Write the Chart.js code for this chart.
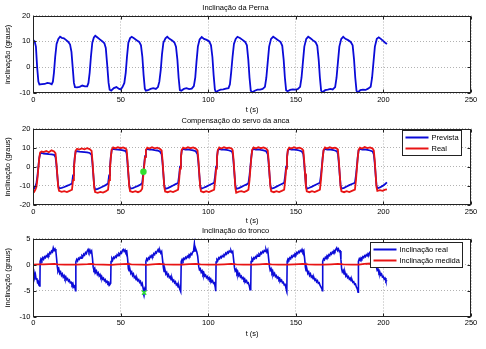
<!DOCTYPE html>
<html>
<head>
<meta charset="utf-8">
<script src="https://cdn.jsdelivr.net/npm/chart.js@4.4.1/dist/chart.umd.min.js"></script>
<style>
  html, body { margin: 0; padding: 0; background: #fff; overflow: hidden; }
  .panel { position: absolute; left: 0; width: 486px; }
</style>
</head>
<body>
<div class="panel" style="top:0px;height:114px"><canvas id="perna"></canvas></div>
<div class="panel" style="top:113px;height:113px"><canvas id="anca"></canvas></div>
<div class="panel" style="top:223px;height:116px"><canvas id="tronco"></canvas></div>
<script>
var blue = '#0b0bd8';
var red = '#e81414';
var green = '#2fe02f';

// tick labels
var timeTicks = [0, 50, 100, 150, 200, 250];
var pernaTicks = [-10, 0, 10, 20];
var ancaTicks = [-20, -10, 0, 10, 20];
var troncoTicks = [-10, -5, 0, 5];

// Inclinação da Perna  [t, graus]
var perna = [
  [0,10.5],[0.8,10.0],[1.5,8],[2.2,0],[2.9,-5.5],[3.5,-6.6],[5,-6.5],[6.5,-6.4],[8,-6.0],[9.5,-6.2],[10.5,-6.5],[11.2,-5.5],[11.8,-2],
  [12.5,4],[13.3,9],[14.3,11],[15.3,11.8],[16.3,11.4],[17.5,11.2],[18.8,10.5],[20,9.8],[21,8.8],[21.8,6],[22.5,0],[23.2,-6],
  [23.8,-7.6],[25,-7.7],[26.5,-7.5],[28,-7.0],[29.5,-7.3],[30.8,-7.3],[31.5,-6.0],[32.2,-2],[32.9,4],[33.7,9.5],[34.6,11.5],
  [35.4,12.2],[36.5,11.6],[38,10.8],[39.5,10.0],[40.6,9.3],[41.4,7.5],[42.2,1],[43,-6],[43.6,-8.6],[44.5,-9.0],[46,-8.0],
  [47.5,-7.6],[49,-8.3],[50,-8.5],[51,-7.5],[52,-6],[52.8,-2],[53.5,4],[54.3,9.5],[55.3,11.3],[56.2,11.8],[57.5,11.2],
  [59,10.5],[60.5,9.8],[61.5,8.5],[62.3,4],[63,-3],[63.7,-8.2],[64.3,-9.0],[65.5,-8.8],[67,-8.3],[68.5,-8.0],[70,-8.3],
  [71.2,-7.6],[72,-5.5],[72.8,-1],[73.5,5],[74.3,9.5],[75.5,11.2],[76.5,11.8],[77.8,11.0],[79.3,10.4],[80.6,9.6],[81.5,8.0],
  [82.3,3],[83,-4],[83.7,-8.8],[84.5,-9.0],[86,-8.3],[87.5,-8.0],[89,-8.4],[90.5,-8.2],[91.7,-7.2],[92.5,-4],[93.2,2],[94,8],
  [95,10.8],[96.2,11.7],[97.5,11.0],[99,10.6],[100.5,10.0],[101.5,8.5],[102.3,4],[103,-3],[103.7,-8.5],[104.3,-9.6],
  [105.5,-9.0],[107,-8.6],[108.5,-8.5],[110,-8.2],[111.5,-8.0],[112.3,-6.5],[113,-2],[113.8,4],[114.6,9],[115.6,11.0],
  [116.6,11.8],[118,11.3],[119.5,10.6],[121,9.8],[122,8.5],[122.8,3],[123.5,-4],[124.2,-9.0],[125,-9.6],[126.5,-9.0],
  [128,-8.6],[129.5,-8.6],[131,-8.3],[132.3,-7.5],[133.1,-4],[133.9,2],[134.7,8],[135.8,11.0],[137,11.8],[138.3,11.2],
  [139.8,10.5],[141.2,9.8],[142.2,8.3],[143,3],[143.7,-4],[144.4,-8.8],[145.2,-9.2],[146.7,-8.7],[148.2,-8.5],[149.7,-8.6],
  [151,-8.4],[152.4,-7.5],[153.2,-4],[154,2],[154.8,8],[155.9,11],[157,11.8],[158.3,11.2],[159.8,10.4],[161.2,9.7],
  [162.2,8.3],[163,3],[163.7,-4],[164.4,-9.0],[165.2,-9.6],[166.7,-8.8],[168.2,-8.6],[169.7,-8.3],[171,-8.5],[172.4,-7.6],
  [173.2,-4],[174,2],[174.8,8],[175.9,11],[177,11.8],[178.3,11.0],[179.8,10.5],[181.3,9.8],[182.4,8.5],[183.2,3],[183.9,-4],
  [184.6,-9.0],[185.3,-9.7],[186.8,-8.8],[188.3,-8.6],[189.8,-8.7],[191.2,-8.2],[192.7,-7.5],[193.5,-4],[194.3,2],[195.1,8],
  [196.2,11],[197.3,11.6],[198.5,11.0],[199.8,10.2],[201,9.5],[202,9.0]
];

// Compensação do servo da anca: time, prevista, real
var ancaT = [
  0,0.6,1.2,
  1.8,2.4,2.9,3.4,3.9,4.7,5.9,7.4,8.9,10.4,11.9,12.7,13.2,13.7,14.2,14.7,16.2,17.7,19.2,20.7,
  22.1,22.7,23.2,23.7,24.2,25.0,26.2,27.7,29.2,30.7,32.2,33.3,33.8,34.3,34.8,35.3,36.8,38.3,39.8,41.3,
  42.7,43.3,43.8,44.3,44.8,45.6,46.8,48.3,49.8,51.3,52.8,53.3,53.8,54.3,54.8,55.3,56.8,58.3,59.8,61.3,
  62.2,62.8,63.3,63.8,64.3,65.1,66.3,67.8,69.3,70.8,72.3,73.3,73.8,74.3,74.8,75.3,76.8,78.3,79.8,81.3,
  82.7,83.3,83.8,84.3,84.8,85.6,86.8,88.3,89.8,91.3,92.8,93.8,94.3,94.8,95.3,95.8,97.3,98.8,100.3,101.8,
  103.3,103.9,104.4,104.9,105.4,106.2,107.4,108.9,110.4,111.9,113.4,113.9,114.4,114.9,115.4,115.9,117.4,118.9,120.4,121.9,
  122.9,123.5,124.0,124.5,125.0,125.8,127.0,128.5,130.0,131.5,133.0,133.9,134.4,134.9,135.4,135.9,137.4,138.9,140.4,141.9,
  143.3,143.9,144.4,144.9,145.4,146.2,147.4,148.9,150.4,151.9,153.4,154.2,154.7,155.2,155.7,156.2,157.7,159.2,160.7,162.2,
  163.7,164.3,164.8,165.3,165.8,166.6,167.8,169.3,170.8,172.3,173.5,174.0,174.5,175.0,175.5,176.0,177.5,179.0,180.5,182.0,
  183.7,184.3,184.8,185.3,185.8,186.6,187.8,189.3,190.8,192.3,193.8,194.5,195.0,195.5,196.0,196.5,198.0,199.5,201.0,202.0
];
var ancaPrevista = [
  -10.5,-11.2,-10.2,
  -8.5,-4.5,0,4.5,6.8,7.2,6.9,6.8,6.6,6.5,6.2,5.0,1.0,-4.5,-9.5,-11.3,-11.0,-10.6,-10.0,-9.4,
  -8.8,-4.5,0,5.0,8.0,8.2,7.9,7.8,7.7,7.5,7.2,6.2,1.5,-4.5,-10.0,-12.0,-11.6,-11.0,-10.3,-9.6,
  -8.8,-4.5,0,5.5,8.8,9.4,9.1,9.0,8.8,8.6,8.2,7.0,2.0,-4.0,-9.5,-11.5,-11.2,-10.6,-10.0,-9.3,
  -8.5,-3.5,1.0,5.5,8.6,9.3,9.0,9.0,8.7,8.5,8.0,6.5,2.0,-4.0,-9.5,-11.6,-11.2,-10.5,-9.8,-9.1,
  -8.6,-4.5,0,5.0,8.5,9.3,9.0,9.1,8.8,8.6,8.1,6.5,2.0,-4.0,-9.5,-11.5,-11.0,-10.4,-9.7,-9.0,
  -8.4,-4.5,0,5.0,8.5,9.3,9.0,9.0,8.8,8.5,8.0,6.8,2.0,-4.0,-9.5,-11.6,-11.2,-10.5,-9.8,-9.2,
  -8.5,-4.5,0,5.0,8.5,9.3,9.0,9.1,8.8,8.6,8.1,6.6,2.0,-4.0,-9.5,-11.5,-11.1,-10.4,-9.7,-9.0,
  -8.4,-4.5,0,5.0,8.5,9.3,9.0,9.0,8.8,8.5,8.0,6.7,2.0,-4.0,-9.5,-11.5,-11.0,-10.4,-9.7,-9.0,
  -8.4,-4.5,0,5.0,8.5,9.3,9.0,9.1,8.8,8.5,8.0,6.6,2.0,-4.0,-9.5,-11.4,-11.0,-10.3,-9.6,-9.0,
  -8.4,-4.5,0,5.0,8.5,9.3,9.0,9.1,8.8,8.5,8.0,6.5,2.0,-4.0,-9.5,-11.3,-10.8,-10.0,-9.0,-8.2
];
var ancaReal = [
  -12.3,-13.0,-12.0,
  -10.5,-6.0,-0.5,4.5,7.5,8.0,7.7,8.3,7.6,8.6,8.0,7.0,2.0,-4.0,-10.5,-12.6,-13.1,-12.8,-13.2,-12.6,
  -12.0,-7.0,-1.0,4.5,8.5,9.4,9.0,9.6,9.1,9.7,9.2,8.3,3.0,-4.0,-11.0,-13.2,-13.6,-13.2,-13.5,-12.9,
  -12.0,-7.0,-1.0,5.0,9.0,10.1,9.6,10.2,9.7,10.1,9.5,8.8,3.5,-3.5,-10.5,-12.8,-13.2,-12.8,-13.3,-12.7,
  -11.5,-5.0,0.0,5.0,8.8,10.0,9.5,10.2,9.6,10.0,9.4,8.5,3.5,-3.5,-10.5,-12.9,-13.3,-12.8,-13.2,-12.6,
  -12.0,-7.0,-1.0,4.5,8.8,10.0,9.5,10.2,9.7,10.1,9.5,8.6,3.5,-3.5,-10.5,-12.8,-13.3,-12.8,-13.2,-12.6,
  -12.0,-7.0,-1.0,4.5,8.8,10.1,9.5,10.2,9.7,10.0,9.4,8.6,3.5,-3.5,-11.0,-13.6,-13.0,-12.8,-13.2,-12.6,
  -12.0,-7.0,-1.0,4.5,8.8,10.1,9.5,10.2,9.7,10.1,9.5,8.6,3.5,-3.5,-10.5,-12.8,-13.3,-12.8,-13.2,-12.6,
  -12.0,-7.0,-1.0,4.5,8.8,10.0,9.5,10.2,9.6,10.0,9.4,8.6,3.5,-3.5,-10.5,-12.8,-13.3,-12.8,-13.2,-12.6,
  -12.0,-7.0,-1.0,4.5,8.8,10.1,9.5,10.2,9.7,10.0,9.4,8.6,3.5,-3.5,-10.5,-12.8,-13.3,-12.8,-13.2,-12.6,
  -12.0,-7.0,-1.0,4.5,8.8,10.0,9.5,10.3,9.8,10.1,9.5,8.5,3.5,-3.5,-10.5,-12.6,-12.2,-12.6,-12.0,-11.8
];
var ancaMarca = [[62.9, -2.6]];

// Inclinação do tronco [t, graus]
var troncoReal = [
  [0,-2.0],[0.4,-1.5],[0.8,-2.4],[1.2,-1.9],[1.6,-2.8],[2.0,-2.6],[2.4,-3.4],[2.8,-3.2],[3.2,-3.9],[3.6,-4.1],[3.8,-3.7],
  [3.9,0.6],[4.4,1.1],[4.9,0.8],[5.4,1.3],[5.9,1.0],[6.4,1.5],[6.9,1.3],[7.4,1.7],[7.9,1.5],[8.4,2.0],[8.9,1.8],[9.4,2.3],
  [9.9,2.1],[10.4,2.6],[10.9,2.4],[11.4,3.2],[11.9,2.7],[12.4,3.0],[12.9,2.5],[13.3,1.2],[13.7,-0.4],[14.1,-1.3],[14.6,-0.9],
  [15.1,-1.7],[15.6,-1.4],[16.1,-2.1],[16.6,-1.8],[17.1,-2.4],[17.6,-2.1],[18.1,-2.7],[18.6,-2.4],[19.1,-2.9],[19.6,-2.7],
  [20.1,-3.2],[20.6,-3.0],[21.1,-3.5],[21.6,-3.4],[22.1,-3.9],[22.6,-3.6],[23.1,-4.3],[23.6,-4.1],[24.1,-5.0],
  [24.3,0.5],[24.8,1.0],[25.3,0.7],[25.8,1.2],[26.3,1.0],[26.8,1.4],[27.3,1.2],[27.8,1.7],[28.3,1.5],[28.8,2.0],[29.3,1.8],
  [29.8,2.3],[30.3,2.1],[30.8,2.6],[31.3,2.9],[31.8,2.4],[32.3,2.8],[32.8,2.3],[33.3,2.6],[33.8,1.2],[34.2,-0.5],[34.6,-1.0],
  [35.1,-0.7],[35.6,-1.5],[36.1,-1.2],[36.6,-1.9],[37.1,-1.6],[37.6,-2.2],[38.1,-1.9],[38.6,-2.5],[39.1,-2.3],[39.6,-2.8],
  [40.1,-2.6],[40.6,-3.1],[41.1,-2.9],[41.6,-3.4],[42.1,-3.2],[42.6,-3.6],[43.1,-3.4],[43.6,-3.9],[44.2,-3.6],
  [44.4,0.6],[44.9,1.2],[45.4,0.9],[45.9,1.4],[46.4,1.2],[46.9,1.6],[47.4,1.4],[47.9,1.9],[48.4,1.7],[48.9,2.1],[49.4,1.9],
  [49.9,2.4],[50.4,2.2],[50.9,2.7],[51.4,2.9],[51.9,2.5],[52.4,2.8],[52.9,2.3],[53.4,2.5],[53.9,1.0],[54.3,-0.8],[54.7,-1.2],
  [55.2,-0.9],[55.7,-1.7],[56.2,-1.4],[56.7,-2.1],[57.2,-1.8],[57.7,-2.5],[58.2,-2.3],[58.7,-2.9],[59.2,-2.6],[59.7,-3.1],
  [60.2,-2.9],[60.7,-3.4],[61.2,-3.2],[61.7,-3.9],[62.2,-3.6],[62.7,-4.5],[63.2,-5.3],[63.7,-4.6],[64.1,-4.9],
  [64.3,0.6],[64.8,1.1],[65.3,0.8],[65.8,1.3],[66.3,1.1],[66.8,1.6],[67.3,1.4],[67.8,1.8],[68.3,1.6],[68.8,2.1],[69.3,1.9],
  [69.8,2.4],[70.3,2.2],[70.8,2.6],[71.3,2.9],[71.8,2.4],[72.3,2.7],[72.8,2.2],[73.3,2.5],[73.8,1.0],[74.3,-0.6],[74.7,-1.3],
  [75.2,-1.0],[75.7,-1.8],[76.2,-1.5],[76.7,-2.2],[77.2,-1.9],[77.7,-2.5],[78.2,-2.3],[78.7,-2.9],[79.2,-2.6],[79.7,-3.2],
  [80.2,-3.0],[80.7,-3.5],[81.2,-3.3],[81.7,-3.9],[82.2,-3.7],[82.7,-4.3],[83.2,-4.1],[83.7,-4.8],[84.2,-5.2],
  [84.5,0.6],[85.0,1.0],[85.5,0.7],[86.0,1.2],[86.5,1.0],[87.0,1.4],[87.5,1.2],[88.0,1.6],[88.5,1.4],[89.0,1.9],[89.5,1.7],
  [90.0,2.1],[90.5,1.9],[91.0,2.4],[91.5,2.5],[92.0,4.0],[92.4,2.6],[92.9,2.9],[93.4,2.4],[93.9,1.6],[94.5,-0.4],[94.9,-1.0],
  [95.4,-0.8],[95.9,-1.5],[96.4,-1.2],[96.9,-1.9],[97.4,-1.6],[97.9,-2.2],[98.4,-2.0],[98.9,-2.5],[99.4,-2.3],[99.9,-2.8],
  [100.4,-2.5],[100.9,-3.0],[101.4,-2.8],[101.9,-3.3],[102.4,-3.1],[102.9,-3.6],[103.4,-3.5],[103.9,-4.3],[104.2,-5.1],
  [104.4,0.5],[104.9,1.0],[105.4,0.8],[105.9,1.3],[106.4,1.1],[106.9,1.5],[107.4,1.3],[107.9,1.7],[108.4,1.5],[108.9,1.9],
  [109.4,1.8],[109.9,2.2],[110.4,2.0],[110.9,2.4],[111.4,2.2],[111.9,2.6],[112.4,2.4],[112.9,2.7],[113.4,2.3],[113.9,2.5],
  [114.4,1.0],[114.9,-0.6],[115.3,-1.2],[115.8,-0.9],[116.3,-1.7],[116.8,-1.4],[117.3,-2.1],[117.8,-1.8],[118.3,-2.4],
  [118.8,-2.2],[119.3,-2.7],[119.8,-2.5],[120.3,-3.0],[120.8,-2.8],[121.3,-3.3],[121.8,-3.1],[122.3,-3.6],[122.8,-3.5],
  [123.3,-4.0],[123.8,-4.8],[124.2,-4.4],
  [124.4,0.6],[124.9,1.1],[125.4,0.8],[125.9,1.3],[126.4,1.1],[126.9,1.5],[127.4,1.3],[127.9,1.8],[128.4,1.6],[128.9,2.0],
  [129.4,1.8],[129.9,2.3],[130.4,2.1],[130.9,2.5],[131.4,2.3],[131.9,2.7],[132.4,2.5],[132.9,2.9],[133.4,2.4],[133.9,2.8],
  [134.4,1.2],[134.9,-0.4],[135.3,-1.1],[135.8,-0.8],[136.3,-1.6],[136.8,-1.3],[137.3,-2.0],[137.8,-1.7],[138.3,-2.3],
  [138.8,-2.1],[139.3,-2.6],[139.8,-2.4],[140.3,-2.9],[140.8,-2.7],[141.3,-3.2],[141.8,-3.0],[142.3,-3.5],[142.8,-3.4],
  [143.3,-3.9],[143.8,-3.8],[144.3,-4.5],[144.8,-5.1],
  [145.0,0.6],[145.5,1.1],[146.0,0.9],[146.5,1.3],[147.0,1.1],[147.5,1.6],[148.0,1.4],[148.5,1.8],[149.0,1.6],[149.5,2.1],
  [150.0,1.9],[150.5,2.3],[151.0,2.1],[151.5,2.5],[152.0,2.3],[152.5,2.7],[153.0,2.5],[153.5,2.9],[154.0,2.4],[154.5,2.7],
  [155.0,1.1],[155.4,-0.5],[155.8,-1.2],[156.3,-0.9],[156.8,-1.7],[157.3,-1.4],[157.8,-2.1],[158.3,-1.8],[158.8,-2.4],
  [159.3,-2.2],[159.8,-2.7],[160.3,-2.5],[160.8,-3.0],[161.3,-2.8],[161.8,-3.3],[162.3,-3.1],[162.8,-3.6],[163.3,-3.5],
  [163.8,-4.0],[164.3,-4.0],[164.8,-4.6],[165.1,-5.0],
  [165.3,0.6],[165.8,1.1],[166.3,0.9],[166.8,1.4],[167.3,1.2],[167.8,1.7],[168.3,1.5],[168.8,1.9],[169.3,1.7],[169.8,2.2],
  [170.3,2.0],[170.8,2.4],[171.3,2.2],[171.8,2.7],[172.3,2.5],[172.8,2.9],[173.3,3.2],[173.8,2.7],[174.3,3.0],[174.8,2.5],
  [175.3,2.6],[175.7,1.0],[176.1,-0.8],[176.5,-1.4],[177.0,-1.1],[177.5,-1.8],[178.0,-1.5],[178.5,-2.2],[179.0,-1.9],
  [179.5,-2.5],[180.0,-2.3],[180.5,-2.8],[181.0,-2.6],[181.5,-3.1],[182.0,-2.9],[182.5,-3.4],[183.0,-3.3],[183.5,-3.8],
  [184.0,-3.7],[184.5,-4.3],[185.0,-4.6],[185.5,-5.3],
  [185.7,0.6],[186.2,1.1],[186.7,0.8],[187.2,1.3],[187.7,1.1],[188.2,1.5],[188.7,1.3],[189.2,1.7],[189.7,1.5],[190.2,1.9],
  [190.7,1.7],[191.2,2.1],[191.7,1.9],[192.2,2.3],[192.7,2.1],[193.2,2.5],[193.7,2.3],[194.2,2.6],[194.7,2.2],[195.2,2.4],
  [195.6,0.9],[196.0,-0.5],[196.4,-1.1],[196.9,-0.9],[197.4,-1.6],[197.9,-1.4],[198.4,-2.0],[198.9,-1.8],[199.4,-2.4],
  [199.9,-2.3],[200.4,-2.8],[200.9,-2.6],[201.4,-3.2],[202.0,-3.0]
];
var troncoMedida = [
  [0,0.0],[3,0.03],[6,0.05],[9,0.1],[12,0.15],[14,0.05],[18,0.0],[22,-0.03],[24.5,0.0],[28,0.05],[31,0.1],[33,0.15],[35,0.05],
  [40,0.0],[44.5,-0.05],[48,0.05],[51,0.1],[54,0.12],[56,0.03],[62,0.0],[65,-0.05],[68,0.05],[72,0.15],[75,0.05],[80,0.0],
  [85,-0.03],[89,0.08],[93,0.15],[95.5,0.05],[100,0.0],[105,-0.03],[109,0.05],[113,0.12],[116,0.05],[120,0.0],[125,-0.03],
  [129,0.05],[133,0.15],[136,0.05],[140,0.0],[145.5,-0.03],[149,0.05],[154,0.15],[157,0.05],[161,0.0],[166,-0.03],[170,0.05],
  [174,0.15],[177,0.05],[182,0.0],[186,-0.03],[189,0.12],[193,0.2],[197,0.05],[202,0.03]
];
var troncoMarca = [[63.3, -5.4]];

Chart.defaults.font.family = "'Liberation Sans', Arial, Helvetica, sans-serif";
Chart.defaults.font.size = 7.5;
Chart.defaults.color = '#000';

function pts(pairs) {
  return pairs.map(function (p) { return { x: p[0], y: p[1] }; });
}
function zipPts(xs, ys) {
  return xs.map(function (x, i) { return { x: x, y: ys[i] }; });
}
function series(label, data, color, width, order) {
  return { label: label, data: data, borderColor: color, backgroundColor: color,
           borderWidth: width, pointRadius: 0, tension: 0, order: order };
}
function marker(data, style, radius) {
  return { data: pts(data), showLine: false, pointStyle: style, pointRadius: radius,
           pointBackgroundColor: green, pointBorderColor: green, pointBorderWidth: 1.5, order: -1 };
}

// MATLAB style box with inward tick marks
var matlabBox = {
  id: 'matlabBox',
  afterDatasetsDraw: function (chart) {
    var ctx = chart.ctx, a = chart.chartArea;
    var xs = chart.scales.x, ys = chart.scales.y;
    var L = Math.round(a.left) + 0.5, R = Math.round(a.right) - 0.5;
    var T = Math.round(a.top) + 0.5, B = Math.round(a.bottom) - 0.5;
    ctx.save();
    ctx.strokeStyle = '#222';
    ctx.lineWidth = 1;
    ctx.beginPath();
    xs.ticks.forEach(function (t) {
      var px = Math.round(xs.getPixelForValue(t.value)) + 0.5;
      ctx.moveTo(px, B); ctx.lineTo(px, B - 3);
      ctx.moveTo(px, T); ctx.lineTo(px, T + 3);
    });
    ys.ticks.forEach(function (t) {
      var py = Math.round(ys.getPixelForValue(t.value)) + 0.5;
      ctx.moveTo(L, py); ctx.lineTo(L + 3, py);
      ctx.moveTo(R, py); ctx.lineTo(R - 3, py);
    });
    ctx.stroke();
    ctx.strokeRect(L, T, R - L, B - T);
    ctx.restore();
  }
};

// legend box drawn inside the axes, on top of the lines
function boxLegend(topInset, rightInset) {
  return {
    id: 'boxLegend',
    afterDatasetsDraw: function (chart) {
      var ctx = chart.ctx, a = chart.chartArea;
      var items = chart.data.datasets.filter(function (d) { return d.label; });
      ctx.save();
      ctx.font = "7.5px 'Liberation Sans', Arial, sans-serif";
      var tw = 0;
      items.forEach(function (d) { tw = Math.max(tw, ctx.measureText(d.label).width); });
      var pad = 3, lineLen = 23, gap = 3, rowH = 11;
      var w = Math.round(pad + lineLen + gap + tw + pad);
      var h = items.length * rowH + 3;
      var x = Math.round(a.right - rightInset - w) + 0.5;
      var y = Math.round(a.top + topInset) + 0.5;
      ctx.fillStyle = '#fff';
      ctx.fillRect(x, y, w, h);
      ctx.strokeStyle = '#222';
      ctx.lineWidth = 1;
      ctx.strokeRect(x, y, w, h);
      items.forEach(function (d, i) {
        var cy = y + 1.5 + rowH * i + rowH / 2;
        ctx.strokeStyle = d.borderColor;
        ctx.lineWidth = 2;
        ctx.beginPath();
        ctx.moveTo(x + pad, cy); ctx.lineTo(x + pad + lineLen, cy);
        ctx.stroke();
        ctx.fillStyle = '#000';
        ctx.textAlign = 'left';
        ctx.textBaseline = 'middle';
        ctx.fillText(d.label, x + pad + lineLen + gap, cy);
      });
      ctx.restore();
    }
  };
}

function subplot(id, title, yTicks, datasets, xHeight, xTitlePad, legend) {
  var plugins = [matlabBox];
  if (legend) plugins.push(boxLegend(legend[0], legend[1]));
  var gridColor = 'rgba(0,0,0,0.3)';
  return new Chart(document.getElementById(id), {
    type: 'line',
    data: { datasets: datasets },
    options: {
      responsive: true,
      maintainAspectRatio: false,
      animation: false,
      events: [],
      layout: { padding: { left: 0, right: 15, top: 0, bottom: 0 } },
      plugins: {
        legend: { display: false },
        tooltip: { enabled: false },
        title: { display: true, text: title, color: '#000',
                 font: { size: 7.5, weight: 'normal' }, padding: { top: 3.6, bottom: 2.9 } }
      },
      scales: {
        x: {
          type: 'linear',
          min: timeTicks[0],
          max: timeTicks[timeTicks.length - 1],
          afterBuildTicks: function (s) { s.ticks = timeTicks.map(function (v) { return { value: v }; }); },
          afterFit: function (s) { s.height = xHeight; },
          ticks: { color: '#000', padding: 2, maxRotation: 0, autoSkip: false },
          grid: { color: gridColor, drawTicks: false, lineWidth: 1 },
          border: { display: false, dash: [1, 2] },
          title: { display: true, text: 't (s)', color: '#000', padding: { top: 0, bottom: xTitlePad } }
        },
        y: {
          type: 'linear',
          min: yTicks[0],
          max: yTicks[yTicks.length - 1],
          afterBuildTicks: function (s) { s.ticks = yTicks.map(function (v) { return { value: v }; }); },
          afterFit: function (s) { s.width = 33.3; },
          ticks: { color: '#000', padding: 3, autoSkip: false },
          grid: { color: gridColor, drawTicks: false, lineWidth: 1 },
          border: { display: false, dash: [1, 2] },
          title: { display: true, text: 'inclinação (graus)', color: '#000', padding: { top: 3.8, bottom: 0 } }
        }
      }
    },
    plugins: plugins
  });
}

subplot('perna', 'Inclinação da Perna', pernaTicks,
  [series('', pts(perna), blue, 1.8, 0)],
  20.7, 0, null);

subplot('anca', 'Compensação do servo da anca', ancaTicks, [
  series('Prevista', zipPts(ancaT, ancaPrevista), blue, 1.8, 1),
  series('Real', zipPts(ancaT, ancaReal), red, 1.8, 0),
  marker(ancaMarca, 'circle', 2.5)
], 21, 0.5, [1, 10]);

subplot('tronco', 'Inclinação do tronco', troncoTicks, [
  series('Inclinação real', pts(troncoReal), blue, 1.6, 1),
  series('Inclinação medida', pts(troncoMedida), red, 1.8, 0),
  marker(troncoMarca, 'crossRot', 3)
], 22.3, 0.5, [3, 9.5]);
</script>
</body>
</html>
